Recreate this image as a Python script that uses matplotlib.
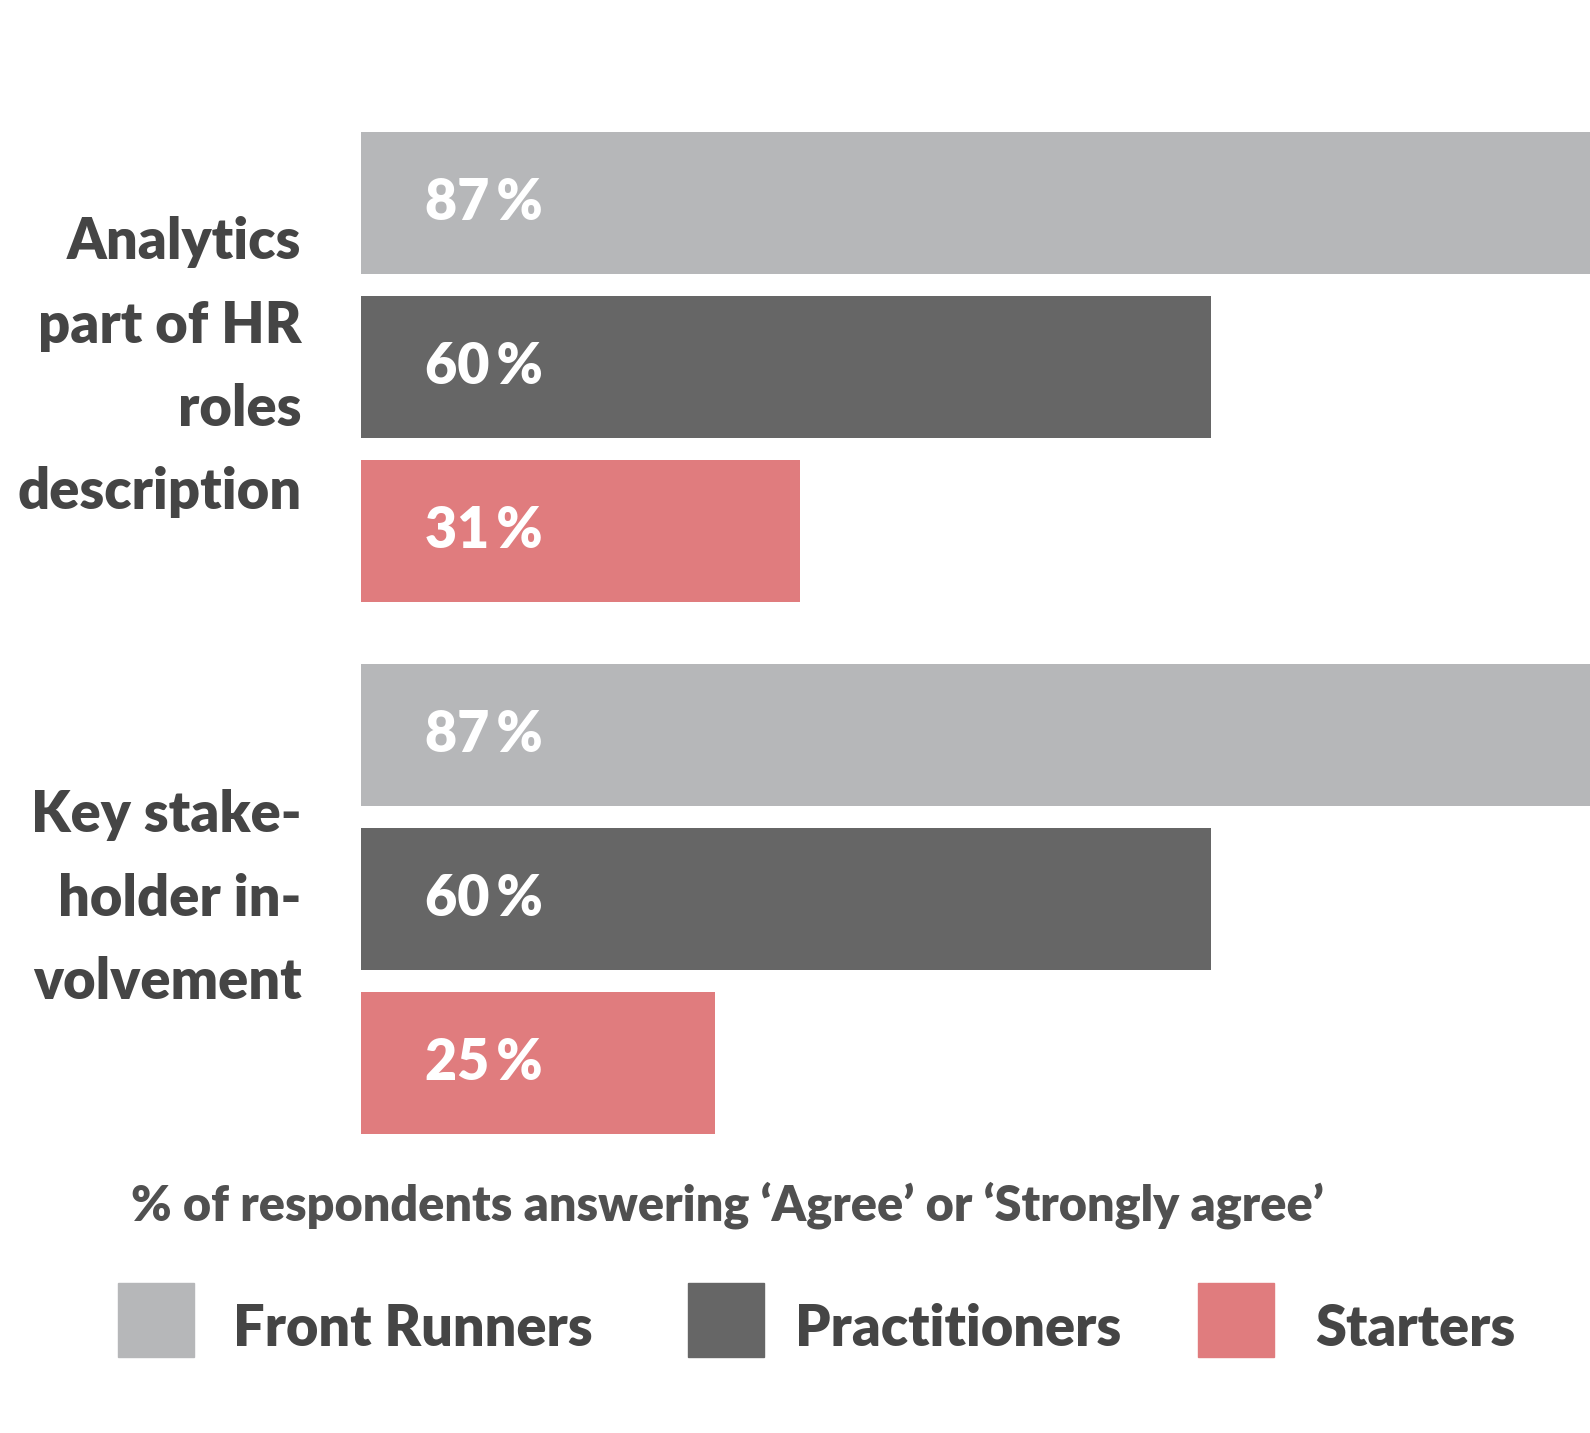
import numpy as np
import matplotlib.pyplot as plt
from matplotlib.patches import Rectangle

plt.rcParams['font.family'] = ['Lato', 'DejaVu Sans']

# datos
categories = ["Analytics\npart of HR\nroles\ndescription", "Key stake-\nholder in-\nvolvement"]
series = ["Front Runners", "Practitioners", "Starters"]
front_runners = [87, 87]
practitioners = [60, 60]
starters = [31, 25]
xlabel = "% of respondents answering \u2018Agree\u2019 or \u2018Strongly agree\u2019"

colors = ['#b6b7b9', '#666666', '#e07c7e']
text_col = '#454545'
wt = 'heavy'

W, H = 1590, 1433
fig = plt.figure(figsize=(W / 100, H / 100), dpi=100)

# ejes: de la izquierda de las barras hasta el borde derecho
ax = fig.add_axes([361 / W, 1 - 1134 / H, 1 - 361 / W, (1134 - 132) / H])

group_step = 3.238
bar_h = 0.866
values = [front_runners, practitioners, starters]
for i, cat in enumerate(categories):
    for j, vals in enumerate(values):
        y = i * group_step + j
        ax.barh(y, vals[i], height=bar_h, color=colors[j])
        ax.text(4.5, y, f"{vals[i]}\u2009%", va='center', ha='left', color='white',
                fontsize=40, fontweight=wt)
    yc = i * group_step + 1
    ax.text(-4.2, yc, cat, ha='right', va='center', color=text_col, fontsize=40.3,
            fontweight=wt, linespacing=1.73, clip_on=False)

ax.set_xlim(0, (W - 361) / 14.17)
ax.set_ylim(group_step + 2 + bar_h / 2, -bar_h / 2)
ax.axis('off')

# titulo del eje x
fig.text(727 / W, 1 - 1205 / H, xlabel, ha='center', va='center', color='#505050',
         fontsize=35, fontweight=wt)

# leyenda manual
patch_x = [118, 688, 1198]
label_x = [233, 795, 1315]
for k, name in enumerate(series):
    fig.patches.append(Rectangle((patch_x[k] / W, 1 - 1357 / H), 76 / W, 74 / H,
                                 transform=fig.transFigure, color=colors[k]))
    fig.text(label_x[k] / W, 1 - 1329 / H, name, ha='left', va='center',
             color=text_col, fontsize=40.2, fontweight=wt)

fig.savefig('out.png', dpi=100)
plt.close()
